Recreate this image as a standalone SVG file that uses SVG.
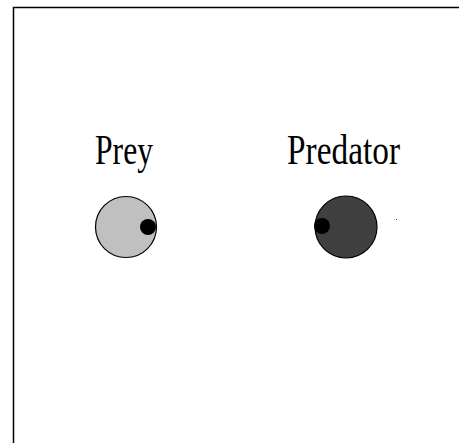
<svg xmlns="http://www.w3.org/2000/svg" width="459" height="443" viewBox="0 0 459 443">
<style>
.frame{fill:none;stroke:#000;stroke-width:1.5}
.body{stroke:#000;stroke-width:1.2}
.eye{fill:#000}
.lbl{font-family:"Liberation Serif","DejaVu Serif",serif;font-size:43px;fill:#000}
</style>
<rect width="459" height="443" fill="#fff"/>
<g id="frame"><path class="frame" d="M13.5,450 V7.5 H465"/></g>
<g id="connectors"></g>
<g id="prey">
<text class="lbl" x="95" y="164" textLength="58" lengthAdjust="spacingAndGlyphs">Prey</text>
<circle class="body" cx="126" cy="227" r="30.5" fill="#c0c0c0"/>
<circle class="eye" cx="148" cy="227" r="8"/>
</g>
<g id="predator">
<text class="lbl" x="287" y="164" textLength="113" lengthAdjust="spacingAndGlyphs">Predator</text>
<circle class="body" cx="346" cy="227" r="31" fill="#404040"/>
<circle class="eye" cx="322" cy="226" r="8"/>
</g>
<rect x="396" y="219" width="1" height="1" fill="#333"/>
</svg>
